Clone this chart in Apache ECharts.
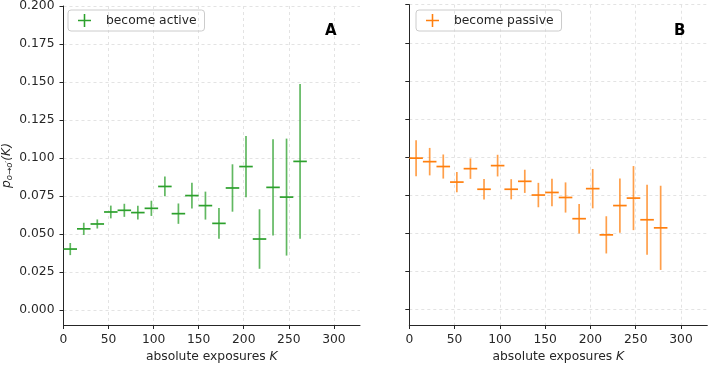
<!DOCTYPE html>
<html>
<head>
<meta charset="utf-8">
<script src="https://cdn.jsdelivr.net/npm/echarts@6/dist/echarts.min.js"></script>
<style>
  html, body { margin: 0; padding: 0; background: #fff; }
  #chart { width: 709px; height: 368px; }
</style>
</head>
<body>
<div id="chart"></div>
<script>
  // bin centres (absolute exposures K), bins are 15 wide
  var binCenters = [7.5, 22.5, 37.5, 52.5, 67.5, 82.5, 97.5, 112.5, 127.5, 142.5,
                    157.5, 172.5, 187.5, 202.5, 217.5, 232.5, 247.5, 262.5, 277.5];
  var binHalfWidth = 7.5;

  // panel A: become active
  var activeValues = [0.0400, 0.0533, 0.0565, 0.0644, 0.0655, 0.0640, 0.0668, 0.0812, 0.0633,
                      0.0752, 0.0686, 0.0569, 0.0802, 0.0943, 0.0466, 0.0806, 0.0742, 0.0977];
  var activeErrors = [0.0040, 0.0040, 0.0030, 0.0042, 0.0043, 0.0045, 0.0050, 0.0065, 0.0067,
                      0.0085, 0.0092, 0.0102, 0.0156, 0.0202, 0.0196, 0.0316, 0.0385, 0.0510];

  // panel B: become passive
  var passiveValues = [0.0994, 0.0971, 0.0939, 0.0837, 0.0925, 0.0790, 0.0945, 0.0790, 0.0842, 0.0752,
                       0.0769, 0.0736, 0.0597, 0.0794, 0.0491, 0.0683, 0.0732, 0.0590, 0.0537];
  var passiveErrors = [0.0118, 0.0090, 0.0079, 0.0066, 0.0067, 0.0067, 0.0071, 0.0066, 0.0076, 0.0080,
                       0.0090, 0.0099, 0.0097, 0.0129, 0.0122, 0.0178, 0.0210, 0.0229, 0.0276];

  var xTicks = [0, 50, 100, 150, 200, 250, 300];
  var yTicks = [0, 0.025, 0.05, 0.075, 0.1, 0.125, 0.15, 0.175, 0.2];

  var green = '#2ca02c';
  var orange = '#ff7f0e';
  var font = 'DejaVu Sans';
  var fs = 12.3;
  var textColor = '#262626';

  function toRows(values, errors) {
    return values.map(function (v, i) { return [binCenters[i], v, errors[i]]; });
  }

  // vertical line = y error, horizontal line = bin width
  function renderErrorBar(params, api) {
    var x = api.value(0), y = api.value(1), e = api.value(2);
    var top = api.coord([x, y + e]);
    var bottom = api.coord([x, y - e]);
    var left = api.coord([x - binHalfWidth, y]);
    var right = api.coord([x + binHalfWidth, y]);
    var color = api.visual('color');
    return {
      type: 'group',
      children: [
        { type: 'line', shape: { x1: top[0], y1: top[1], x2: bottom[0], y2: bottom[1] },
          style: { stroke: color, lineWidth: 1.7, opacity: 0.75 } },
        { type: 'line', shape: { x1: left[0], y1: left[1], x2: right[0], y2: right[1] },
          style: { stroke: color, lineWidth: 1.7 } }
      ]
    };
  }

  function xAxisFor(idx) {
    return {
      type: 'value', gridIndex: idx, min: 0, max: 329,
      name: '{n|absolute exposures }{k|K}',
      nameLocation: 'middle', nameGap: 26,
      nameTextStyle: {
        rich: {
          n: { fontFamily: font, fontSize: fs, color: textColor },
          k: { fontFamily: font, fontSize: fs, color: textColor, fontStyle: 'italic' }
        }
      },
      axisLine: { show: true, onZero: false, lineStyle: { color: textColor, width: 1 } },
      axisTick: { show: true, length: 4, customValues: xTicks, lineStyle: { color: textColor } },
      axisLabel: { customValues: xTicks, fontFamily: font, fontSize: fs, color: textColor, margin: 9 },
      splitLine: { show: true, lineStyle: { color: '#e3e3e3', type: [3, 3] } }
    };
  }

  function yAxisFor(idx, withLabels) {
    var ax = {
      type: 'value', gridIndex: idx, min: -0.01, max: 0.2,
      axisLine: { show: true, onZero: false, lineStyle: { color: textColor, width: 1 } },
      axisTick: { show: true, length: 4, customValues: yTicks, lineStyle: { color: textColor } },
      axisLabel: {
        show: withLabels, customValues: yTicks, fontFamily: font, fontSize: fs, color: textColor, margin: 9,
        formatter: function (v) { return v.toFixed(3); }
      },
      splitLine: { show: true, lineStyle: { color: '#e3e3e3', type: [3, 3] } }
    };
    if (withLabels) {
      ax.name = '{p|p}{s|o→o′}{k|(K)}';
      ax.nameLocation = 'middle';
      ax.nameGap = 49;
      ax.nameRotate = 90;
      ax.nameTextStyle = {
        rich: {
          p: { fontFamily: font, fontSize: fs, color: textColor, fontStyle: 'italic' },
          s: { fontFamily: font, fontSize: 8.5, color: textColor, fontStyle: 'italic', padding: [6, 0, 0, 0] },
          k: { fontFamily: font, fontSize: fs, color: textColor, fontStyle: 'italic' }
        }
      };
    }
    return ax;
  }

  var plusIcon = 'path://M0,4.4h10v1.2h-10zM4.4,0h1.2v10h-1.2z';

  function legendFor(name, left) {
    return {
      data: [name], left: left, top: 10, orient: 'vertical',
      icon: plusIcon, itemWidth: 13, itemHeight: 13,
      padding: [4, 8, 4, 10],
      borderColor: '#cccccc', borderWidth: 1, borderRadius: 3,
      textStyle: { fontFamily: font, fontSize: fs, color: textColor, padding: [0, 0, 0, 10] }
    };
  }

  var chart = echarts.init(document.getElementById('chart'), null, { renderer: 'canvas' });

  chart.setOption({
    animation: false,
    backgroundColor: '#ffffff',
    title: [
      { text: 'A', left: 320, top: 19, textStyle: { fontFamily: font, fontSize: 15, fontWeight: 'bold', color: '#000' } },
      { text: 'B', left: 669, top: 19, textStyle: { fontFamily: font, fontSize: 15, fontWeight: 'bold', color: '#000' } }
    ],
    legend: [legendFor('become active', 68), legendFor('become passive', 416)],
    grid: [
      { left: 62, top: 4.7, width: 298, height: 325.3 },
      { left: 409.3, top: 4.7, width: 298, height: 325.3 }
    ],
    xAxis: [xAxisFor(0), xAxisFor(1)],
    yAxis: [yAxisFor(0, true), yAxisFor(1, false)],
    series: [
      {
        name: 'become active', type: 'custom', xAxisIndex: 0, yAxisIndex: 0,
        itemStyle: { color: green },
        renderItem: renderErrorBar,
        encode: { x: 0, y: 1 },
        data: toRows(activeValues, activeErrors)
      },
      {
        name: 'become passive', type: 'custom', xAxisIndex: 1, yAxisIndex: 1,
        itemStyle: { color: orange },
        renderItem: renderErrorBar,
        encode: { x: 0, y: 1 },
        data: toRows(passiveValues, passiveErrors)
      }
    ]
  });
</script>
</body>
</html>
